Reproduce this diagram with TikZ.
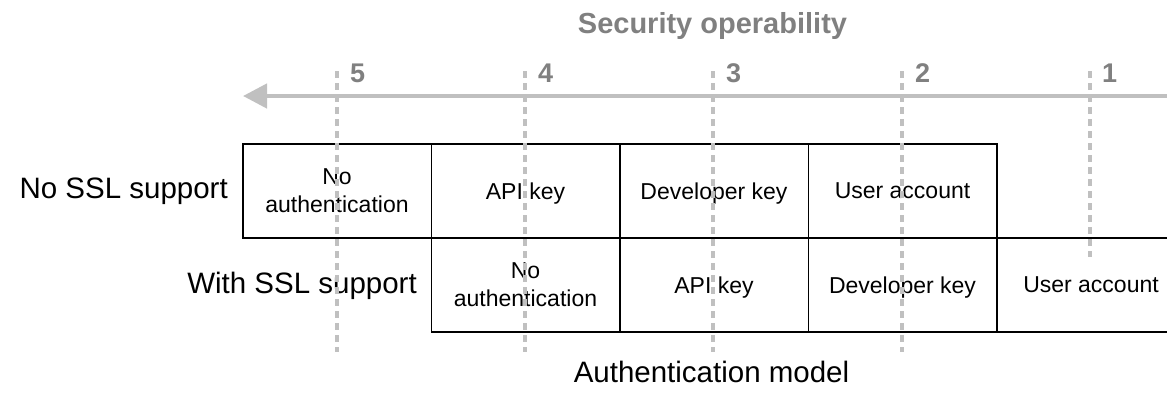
\documentclass[tikz,border=0pt]{standalone}
\usepackage{fontspec}
\setmainfont{Liberation Sans}
\usetikzlibrary{arrows.meta}
\definecolor{titlegray}{RGB}{128,128,128}
\definecolor{linegray}{RGB}{192,192,192}
\begin{document}
\begin{tikzpicture}[x=1pt,y=-1pt,
  cell/.style={draw=black,line width=1.5pt,minimum width=188.5pt,minimum height=94pt,
    inner sep=0pt,align=center,text depth=0pt,font=\fontsize{23}{28}\selectfont,anchor=north west},
  guide/.style={draw=linegray,line width=3.5pt,dash pattern=on 7pt off 5pt},
  axisarrow/.style={draw=linegray,line width=4.5pt,-{Triangle[length=24pt,width=24pt]}},
  rowlabel/.style={inner sep=0pt,anchor=base east,font=\fontsize{29.5}{32}\selectfont},
  num/.style={inner sep=0pt,anchor=base west,text=titlegray,font=\fontsize{27}{30}\selectfont\bfseries},
  axistitle/.style={inner sep=0pt,anchor=base,text=titlegray,font=\fontsize{29}{32}\selectfont\bfseries},
  axislabel/.style={inner sep=0pt,anchor=base,font=\fontsize{29.5}{32}\selectfont}
]
\useasboundingbox (0,0) rectangle (1167,392);
\clip (0,0) rectangle (1167,392);

% title and axis arrow
\node[axistitle] (title) at (712.5,33) {Security operability};
\coordinate (arrowstart) at (1175,96);
\coordinate (arrowtip) at (243,96);
\draw[axisarrow] (arrowstart) -- (arrowtip);

% level numbers
\node[num] (n5) at (350,82) {5};
\node[num] (n4) at (538,82) {4};
\node[num] (n3) at (726,82) {3};
\node[num] (n2) at (915,82) {2};
\node[num] (n1) at (1102,82) {1};

% row 1: no SSL
\node[cell] (a1) at (242,143) {No\\authentication};
\node[cell] (a2) at (430.5,143) {API key};
\node[cell] (a3) at (619,143) {Developer key};
\node[cell] (a4) at (807.5,143) {User account};

% row 2: with SSL
\node[cell] (b1) at (430.5,237) {No\\authentication};
\node[cell] (b2) at (619,237) {API key};
\node[cell] (b3) at (807.5,237) {Developer key};
\node[cell] (b4) at (996,237) {User account};

% row labels
\node[rowlabel] (nossl) at (228,198) {No SSL support};
\node[rowlabel] (withssl) at (417,293) {With SSL support};

% guides
\coordinate (g5t) at (337,71); \coordinate (g5b) at (337,352);
\coordinate (g4t) at (525,71); \coordinate (g4b) at (525,352);
\coordinate (g3t) at (713,71); \coordinate (g3b) at (713,352);
\coordinate (g2t) at (902,71); \coordinate (g2b) at (902,352);
\coordinate (g1t) at (1090,71); \coordinate (g1b) at (1090,257);
\draw[guide] (g5t) -- (g5b);
\draw[guide] (g4t) -- (g4b);
\draw[guide] (g3t) -- (g3b);
\draw[guide] (g2t) -- (g2b);
\draw[guide] (g1t) -- (g1b);

% bottom label
\node[axislabel] (authmodel) at (711.5,382) {Authentication model};
\end{tikzpicture}
\end{document}
